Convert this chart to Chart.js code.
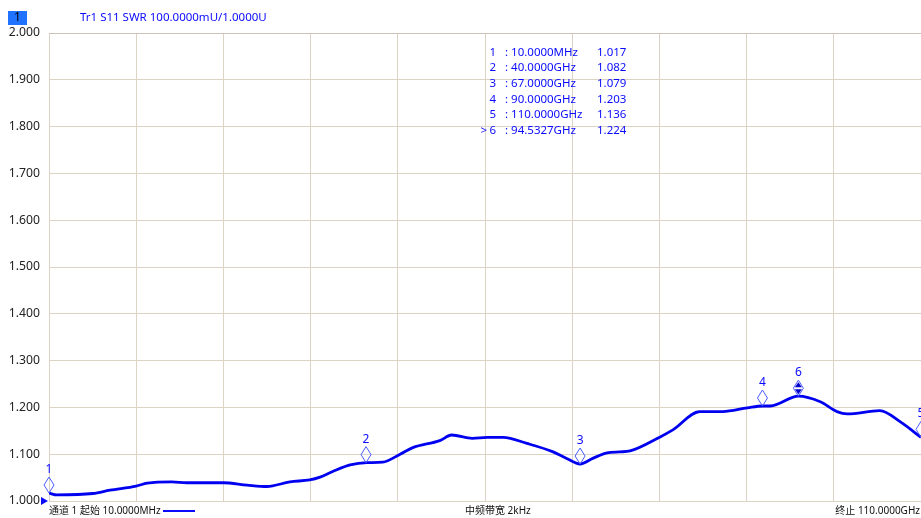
<!DOCTYPE html>
<html>
<head>
<meta charset="utf-8">
<script src="https://cdn.jsdelivr.net/npm/chart.js@4/dist/chart.umd.min.js"></script>
<style>
  html, body { margin: 0; padding: 0; background: #fff; }
  #wrap { width: 921px; height: 518px; position: relative; }
</style>
</head>
<body>
<div id="wrap"><canvas id="swr" width="921" height="518"></canvas></div>
<script>
// трасса S11 SWR, частота в ГГц
const freqGHz = [0.01, 1.0, 5.55, 7.7, 11.0, 12.4, 15.5, 17.4, 22.0, 25.0, 27.5, 30.4, 32.9, 34.2, 35.8, 38.0, 40.1, 42.1, 44.3, 45.9, 49.3, 50.8, 53.4, 55.3, 57.3, 60.3, 63.6, 65.3, 67.0, 68.6, 70.4, 72.0, 73.3, 77.1, 78.7, 82.1, 85.0, 88.1, 90.0, 91.0, 94.53, 97.3, 99.4, 100.7, 104.8, 107.4, 110.0];
const swr = [1.017, 1.013, 1.016, 1.023, 1.032, 1.038, 1.041, 1.039, 1.039, 1.034, 1.031, 1.041, 1.045, 1.051, 1.063, 1.077, 1.082, 1.083, 1.100, 1.114, 1.129, 1.141, 1.134, 1.136, 1.136, 1.123, 1.105, 1.091, 1.079, 1.091, 1.103, 1.105, 1.107, 1.137, 1.152, 1.191, 1.191, 1.199, 1.203, 1.203, 1.224, 1.212, 1.191, 1.186, 1.193, 1.169, 1.136];

// маркеры
const markerNum = ['1', '2', '3', '4', '5', '6'];
const markerFreq = [0.01, 40, 67, 90, 110, 94.5327];
const markerVal = [1.017, 1.082, 1.079, 1.203, 1.136, 1.224];
const markerFreqText = ['10.0000MHz', '40.0000GHz', '67.0000GHz', '90.0000GHz', '110.0000GHz', '94.5327GHz'];
const activeMarker = 5;

const yTicks = [1.0, 1.1, 1.2, 1.3, 1.4, 1.5, 1.6, 1.7, 1.8, 1.9, 2.0];

const BLUE = '#0a0aff';
const TXT = '"Noto Sans", "Noto Sans CJK SC", sans-serif';

const overlay = {
    id: 'overlay',
    afterDatasetsDraw(chart) {
        const ctx = chart.ctx;
        const xs = chart.scales.x, ys = chart.scales.y;
        ctx.save();

        // маркеры на кривой
        for (let i = 0; i < markerFreq.length; i++) {
            let px = xs.getPixelForValue(markerFreq[i]);
            let py = ys.getPixelForValue(markerVal[i]);
            ctx.strokeStyle = '#4b5cff';
            ctx.lineWidth = 1;
            ctx.beginPath();
            ctx.moveTo(px, py);
            ctx.lineTo(px - 5, py - 8);
            ctx.lineTo(px, py - 16);
            ctx.lineTo(px + 5, py - 8);
            ctx.closePath();
            ctx.stroke();
            if (i === activeMarker) {
                ctx.fillStyle = '#0000cc';
                ctx.beginPath();
                ctx.moveTo(px, py - 14); ctx.lineTo(px - 3.5, py - 9); ctx.lineTo(px + 3.5, py - 9);
                ctx.closePath(); ctx.fill();
                ctx.beginPath();
                ctx.moveTo(px, py - 2); ctx.lineTo(px - 3.5, py - 7); ctx.lineTo(px + 3.5, py - 7);
                ctx.closePath(); ctx.fill();
            }
            ctx.fillStyle = BLUE;
            ctx.font = '12px ' + TXT;
            ctx.textAlign = 'center';
            ctx.textBaseline = 'alphabetic';
            ctx.fillText(markerNum[i], px, py - 20);
        }

        // треугольник опорной линии
        let yRef = ys.getPixelForValue(1.0);
        ctx.fillStyle = BLUE;
        ctx.beginPath();
        ctx.moveTo(41, yRef - 4); ctx.lineTo(48, yRef); ctx.lineTo(41, yRef + 4);
        ctx.closePath(); ctx.fill();

        // заголовок
        ctx.fillStyle = '#1f73ff';
        ctx.fillRect(8, 11, 19, 14);
        ctx.fillStyle = '#000';
        ctx.font = '12px ' + TXT;
        ctx.textAlign = 'center';
        ctx.textBaseline = 'middle';
        ctx.fillText('1', 17.5, 18);
        ctx.fillStyle = BLUE;
        ctx.textAlign = 'left';
        ctx.font = '11.5px ' + TXT;
        ctx.fillText('Tr1 S11 SWR 100.0000mU/1.0000U', 80, 18);

        // таблица маркеров
        ctx.font = '11.5px ' + TXT;
        for (let i = 0; i < markerNum.length; i++) {
            let ty = 52.5 + i * 15.6;
            ctx.textAlign = 'right';
            ctx.fillText(markerNum[i], 496, ty);
            if (i === activeMarker) ctx.fillText('>', 487, ty);
            ctx.textAlign = 'left';
            ctx.fillText(': ' + markerFreqText[i], 505, ty);
            ctx.fillText(markerVal[i].toFixed(3), 597, ty);
        }

        // подвал
        ctx.fillStyle = '#111';
        ctx.font = '10px ' + TXT;
        ctx.textAlign = 'left';
        ctx.fillText('通道 1 起始 10.0000MHz', 49, 511);
        ctx.strokeStyle = BLUE;
        ctx.lineWidth = 2;
        ctx.beginPath();
        ctx.moveTo(163, 511); ctx.lineTo(195, 511);
        ctx.stroke();
        ctx.fillText('中频带宽 2kHz', 465, 511);
        ctx.textAlign = 'right';
        ctx.fillText('终止 110.0000GHz', 920, 511);

        ctx.restore();
    }
};

new Chart(document.getElementById('swr'), {
    type: 'line',
    data: {
        datasets: [{
            data: freqGHz.map((f, i) => ({ x: f, y: swr[i] })),
            borderColor: '#0000f0',
            borderWidth: 2.8,
            pointRadius: 0,
            cubicInterpolationMode: 'monotone',
            fill: false
        }]
    },
    options: {
        responsive: false,
        animation: false,
        layout: { padding: { top: 33, right: 0, left: 0, bottom: 0 } },
        plugins: { legend: { display: false }, tooltip: { enabled: false } },
        scales: {
            x: {
                type: 'linear',
                min: 0.01,
                max: 110,
                afterBuildTicks(scale) {
                    let t = [];
                    for (let k = 0; k <= 10; k++) t.push({ value: 0.01 + k * 10.999 });
                    scale.ticks = t;
                },
                ticks: { display: false },
                grid: { color: '#dcd3c4', lineWidth: 1, drawTicks: false },
                border: { display: false },
                afterFit(scale) { scale.height = 17; }
            },
            y: {
                min: 1.0,
                max: 2.0,
                afterBuildTicks(scale) {
                    scale.ticks = yTicks.map(v => ({ value: v }));
                },
                ticks: {
                    color: '#222',
                    font: { family: TXT, size: 12.2 },
                    padding: 9,
                    callback: v => v.toFixed(3)
                },
                grid: {
                    drawTicks: false,
                    lineWidth: 1,
                    color: ctx => ctx.tick && ctx.tick.value === 2.0 ? '#cbc3b5' : '#dcd3c4'
                },
                border: { display: false },
                afterFit(scale) { scale.width = 49; }
            }
        }
    },
    plugins: [overlay]
});
</script>
</body>
</html>
